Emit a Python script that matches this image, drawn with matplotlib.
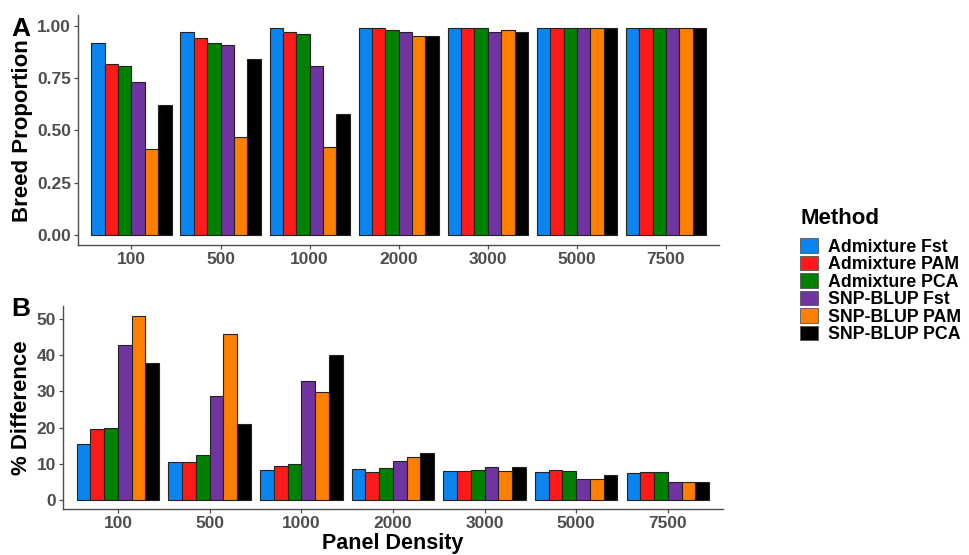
import numpy as np
import matplotlib.pyplot as plt
from matplotlib.patches import Patch

plt.rcParams['font.family'] = ['Liberation Sans', 'DejaVu Sans']

densities = ['100', '500', '1000', '2000', '3000', '5000', '7500']
methods = ['Admixture Fst', 'Admixture PAM', 'Admixture PCA',
           'SNP-BLUP Fst', 'SNP-BLUP PAM', 'SNP-BLUP PCA']
colors = ['#0A84EE', '#FF1A1A', '#008000', '#7034A0', '#FF8000', '#000000']

# Panel A: breed proportion
breed_prop = [
    [0.92, 0.97, 0.99, 0.99, 0.99, 0.99, 0.99],  # Admixture Fst
    [0.82, 0.94, 0.97, 0.99, 0.99, 0.99, 0.99],  # Admixture PAM
    [0.81, 0.92, 0.96, 0.98, 0.99, 0.99, 0.99],  # Admixture PCA
    [0.73, 0.91, 0.81, 0.97, 0.97, 0.99, 0.99],  # SNP-BLUP Fst
    [0.41, 0.47, 0.42, 0.95, 0.98, 0.99, 0.99],  # SNP-BLUP PAM
    [0.62, 0.84, 0.58, 0.95, 0.97, 0.99, 0.99],  # SNP-BLUP PCA
]

# Panel B: % difference
pct_diff = [
    [15.4, 10.4, 8.3, 8.6, 8.0, 7.6, 7.4],
    [19.5, 10.4, 9.4, 7.8, 8.0, 8.2, 7.6],
    [19.9, 12.4, 9.9, 8.8, 8.3, 8.0, 7.7],
    [42.9, 28.8, 32.9, 10.9, 9.0, 5.8, 5.0],
    [50.9, 45.9, 29.8, 11.9, 8.0, 5.8, 5.0],
    [37.8, 21.0, 40.0, 13.0, 9.0, 6.9, 5.0],
]

fig = plt.figure(figsize=(9.69, 5.55), dpi=100)
axA = fig.add_axes([0.0805, 0.5577, 0.662, 0.4144])
axB = fig.add_axes([0.065, 0.0825, 0.681, 0.3656])

x = np.arange(1, len(densities) + 1)
w = 0.9 / len(methods)
grey = '#4D4D4D'

for ax, data in [(axA, breed_prop), (axB, pct_diff)]:
    for i, (vals, c) in enumerate(zip(data, colors)):
        ax.bar(x - 0.45 + w * (i + 0.5), vals, width=w, color=c,
               edgecolor='#222222', linewidth=0.8)
    ax.set_xlim(0.4, 7.6)
    ax.set_xticks(x)
    ax.set_xticklabels(densities)
    for s in ['top', 'right']:
        ax.spines[s].set_visible(False)
    for s in ['left', 'bottom']:
        ax.spines[s].set_color(grey)
        ax.spines[s].set_linewidth(1.0)
    ax.tick_params(colors=grey, labelsize=12.5, length=3, width=0.9, pad=2)
    for lab in ax.get_xticklabels() + ax.get_yticklabels():
        lab.set_fontweight('bold')

axA.set_ylim(-0.05, 1.05)
axA.set_yticks([0, 0.25, 0.5, 0.75, 1.0])
axA.set_yticklabels(['0.00', '0.25', '0.50', '0.75', '1.00'], fontweight='bold')
axA.set_ylabel('Breed Proportion', fontsize=16, fontweight='bold', labelpad=3)

axB.set_ylim(-2.55, 53.5)
axB.set_yticks([0, 10, 20, 30, 40, 50])
axB.set_yticklabels(['0', '10', '20', '30', '40', '50'], fontweight='bold')
axB.set_ylabel('% Difference', fontsize=16, fontweight='bold', labelpad=3)
axB.set_xlabel('Panel Density', fontsize=15.5, fontweight='bold', labelpad=1)

fig.text(0.012, 0.947, 'A', fontsize=19, fontweight='bold', va='center')
fig.text(0.012, 0.443, 'B', fontsize=19, fontweight='bold', va='center')

# legend title drawn separately to match the gap above the keys
fig.text(0.8256, 0.607, 'Method', fontsize=16, fontweight='bold', va='center')
handles = [Patch(facecolor=c, edgecolor='#555555', linewidth=0.6) for c in colors]
leg = fig.legend(handles, methods, loc='upper left', bbox_to_anchor=(0.8256, 0.571),
                 frameon=False, borderpad=0, borderaxespad=0,
                 prop={'weight': 'bold', 'size': 12.8},
                 handlelength=1.0, handleheight=0.9, handletextpad=0.55,
                 labelspacing=0.0)

fig.savefig('out.png', dpi=100)
